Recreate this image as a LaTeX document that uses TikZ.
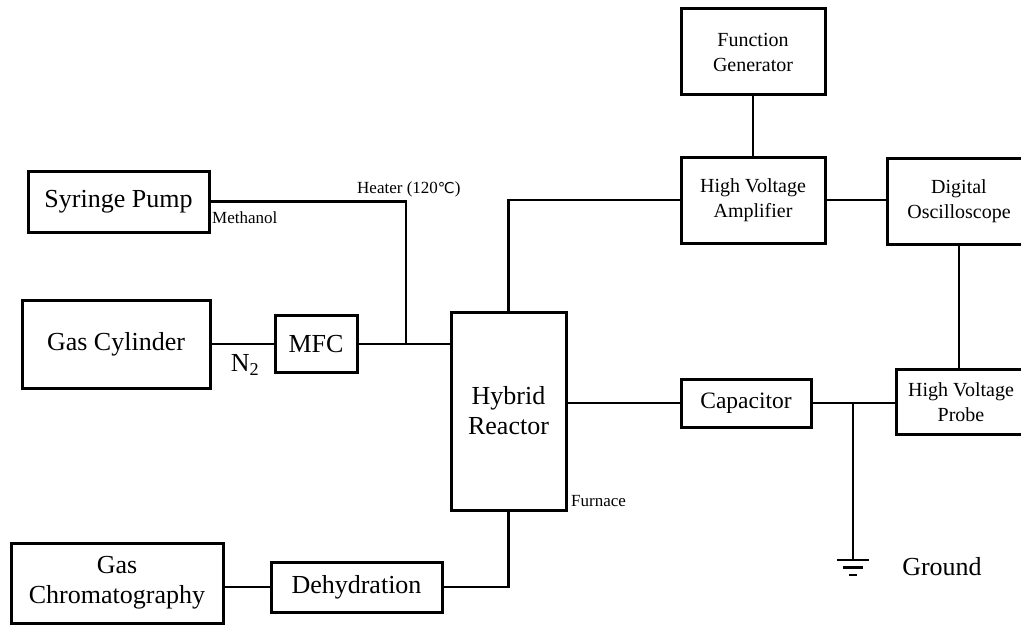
\documentclass[tikz,border=0pt]{standalone}
\usepackage{fontspec}
\setmainfont{Liberation Serif}
\newfontfamily\symfont{DejaVu Sans}
\usetikzlibrary{positioning,calc}
\tikzset{
  box/.style  ={draw, line width=3pt, inner sep=0pt, align=center, fill=white},
  big/.style  ={font=\fontsize{26}{30}\selectfont},
  mid/.style  ={font=\fontsize{20}{25}\selectfont},
  lbl/.style  ={font=\fontsize{17}{20}\selectfont, inner sep=0pt},
  hvbox/.style={box, mid, minimum width=144pt, minimum height=86pt},
  wire/.style ={line width=2.8pt},
}

\begin{document}
\begin{tikzpicture}[x=1pt, y=-1pt]
  \useasboundingbox (0,0) rectangle (1021,626);

  % feed side
  \node[box, big, minimum width=181pt, minimum height=61pt] (pump) at (118.5,201.5) {Syringe Pump};
  \node[box, big, minimum width=188pt, minimum height=88pt] (cyl) at (116,344) {Gas Cylinder};
  \node[box, big, minimum width=82pt, minimum height=57pt] (mfc) at (316,344) {MFC};
  \node[box, big, minimum width=115pt, minimum height=198pt] (reactor) at (508.5,411) {Hybrid\\Reactor};

  % electrical side
  \node[hvbox] (fg) at (753,52) {Function\\Generator};
  \node[hvbox] (hva) at (753,200) {High Voltage\\Amplifier};
  \node[hvbox] (dso) at (959,201) {Digital\\Oscilloscope};
  \node[box, mid, minimum width=130pt, minimum height=65pt] (probe) at (961,402) {High Voltage\\Probe};
  \node[box, font=\fontsize{23.5}{28}\selectfont, minimum width=130pt, minimum height=48pt] (cap) at (746,403) {Capacitor};

  % analysis side
  \node[box, big, minimum width=212pt, minimum height=80pt] (gc) at (117,583) {Gas\\Chromatography};
  \node[box, big, minimum width=171pt, minimum height=50pt] (dehy) at (356.5,587) {Dehydration};

  \coordinate (htr) at (406,344);
  \coordinate (gnd) at (853,560);

  \draw[wire] (pump.east) -| (htr);
  \draw[wire] (cyl.east) -- (mfc.west);
  \draw[wire] (mfc.east) -- (reactor.west |- mfc.east);
  \draw[wire] (reactor.north) |- (hva.west);
  \draw[wire] (fg) -- (hva);
  \draw[wire] (hva.east) -- (dso.west |- hva.east);
  \draw[wire] (dso.south) -- (dso.south |- probe.north);
  \draw[wire] (reactor.east |- cap.west) -- (cap.west);
  \draw[wire] (cap.east) -- (probe.west |- cap.east);
  \draw[wire] (cap.east -| gnd) -- (gnd);
  \draw[wire] (reactor.south) |- (dehy.east);
  \draw[wire] (gc.east |- dehy.west) -- (dehy.west);

  % ground symbol
  \draw[wire] ($(gnd)+(-16,0)$) -- ($(gnd)+(16,0)$);
  \draw[wire] ($(gnd)+(-10,7.5)$) -- ($(gnd)+(10,7.5)$);
  \draw[wire] ($(gnd)+(-4,15)$) -- ($(gnd)+(4,15)$);

  % labels
  \node[lbl, anchor=west] (meth) at (212,218) {Methanol};
  \node[lbl, anchor=west] (heat) at (357,189) {Heater (120{\symfont\fontsize{15}{18}\selectfont ℃})};
  \node[lbl, anchor=west] (furn) at (571,501) {Furnace};
  \node[big] (n2) at (245,365) {N\textsubscript{2}};
  \node[big] (gndlbl) at (942,567) {Ground};
\end{tikzpicture}
\end{document}
